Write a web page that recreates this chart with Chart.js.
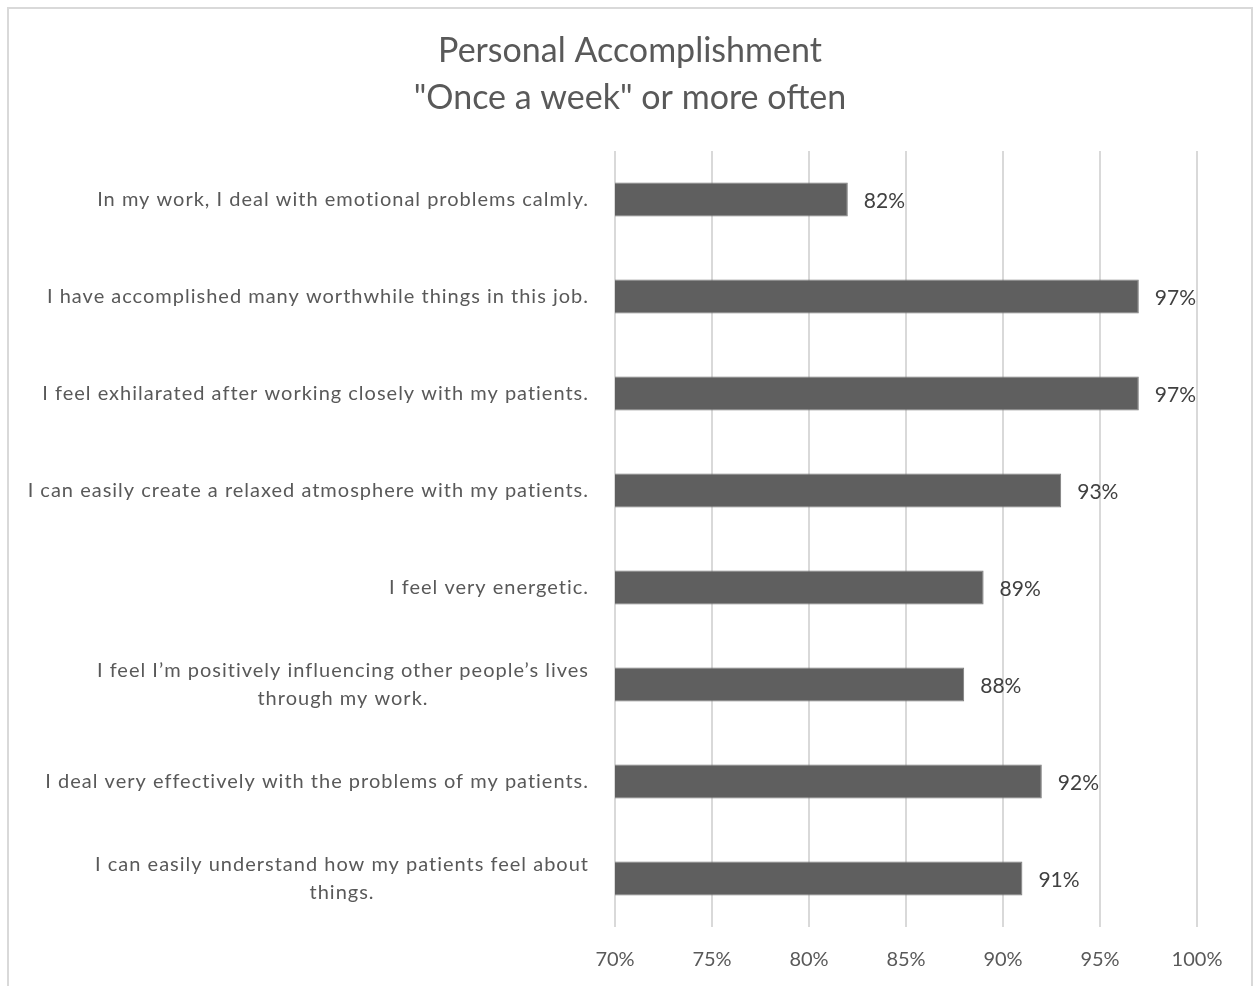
<!DOCTYPE html>
<html lang="en">
<head>
    <meta charset="UTF-8">
    <title>Personal Accomplishment</title>
    <script src="https://cdn.jsdelivr.net/npm/chart.js@4.4.0/dist/chart.umd.min.js"></script>
    <style>
        html, body { margin: 0; padding: 0; background: #fff; overflow: hidden; }
        #wrap { position: relative; width: 1259px; height: 986px; }
        #frame {
            position: absolute; left: 7px; top: 7px; width: 1246px; height: 990px;
            border: 2px solid #d9d9d9; box-sizing: border-box; pointer-events: none;
        }
        canvas { position: absolute; left: 0; top: 0; }
    </style>
</head>
<body>
<div id="wrap">
    <canvas id="myChart" width="1259" height="986"></canvas>
    <div id="frame"></div>
</div>

<script>
    // chart data
    const titleLines = ['Personal Accomplishment', '"Once a week" or more often'];
    const categories = [
        ['In my work, I deal with emotional problems calmly.'],
        ['I have accomplished many worthwhile things in this job.'],
        ['I feel exhilarated after working closely with my patients.'],
        ['I can easily create a relaxed atmosphere with my patients.'],
        ['I feel very energetic.'],
        ['I feel I\u2019m positively influencing other people\u2019s lives', 'through my work.'],
        ['I deal very effectively with the problems of my patients.'],
        ['I can easily understand how my patients feel about', 'things.']
    ];
    const values = [82, 97, 97, 93, 89, 88, 92, 91];
    const xMin = 70;
    const xMax = 100;
    const xStep = 5;

    const FONT = 'Lato, "Open Sans", sans-serif';
    const TEXT_COLOR = '#595959';

    // title, category labels and value labels drawn by hand
    const textPlugin = {
        id: 'textPlugin',
        afterDraw(chart) {
            const ctx = chart.ctx;
            const yScale = chart.scales.y;
            const meta = chart.getDatasetMeta(0);
            ctx.save();

            // title
            ctx.fillStyle = TEXT_COLOR;
            ctx.font = '34px ' + FONT;
            ctx.textAlign = 'center';
            ctx.textBaseline = 'middle';
            ctx.fillText(titleLines[0], 630, 51);
            ctx.fillText(titleLines[1], 630, 98);

            // category labels: block right aligned, lines centred inside it
            ctx.font = '20px ' + FONT;
            ctx.letterSpacing = '1px';
            const rightEdge = 589;
            const lineH = 28;
            categories.forEach((lines, i) => {
                const yc = yScale.getPixelForValue(i);
                const widths = lines.map(l => ctx.measureText(l).width);
                const blockW = Math.max(...widths);
                const cx = rightEdge - blockW / 2;
                const y0 = yc - (lines.length - 1) * lineH / 2;
                lines.forEach((l, k) => {
                    ctx.textAlign = lines.length > 1 ? 'center' : 'right';
                    ctx.fillText(l, lines.length > 1 ? cx : rightEdge, y0 + k * lineH);
                });
            });
            ctx.letterSpacing = '0px';

            // value labels
            ctx.font = '21px ' + FONT;
            ctx.fillStyle = '#404040';
            ctx.textAlign = 'left';
            meta.data.forEach((bar, i) => {
                ctx.fillText(values[i] + '%', bar.x + 16, bar.y + 2);
            });
            ctx.restore();
        }
    };

    const myChart = new Chart('myChart', {
        type: 'bar',
        data: {
            labels: categories.map(c => c.join(' ')),
            datasets: [{
                data: values,
                backgroundColor: '#5f5f5f',
                borderColor: '#7a7a7a',
                borderWidth: 1,
                barPercentage: 0.7,
                categoryPercentage: 0.5
            }]
        },
        options: {
            indexAxis: 'y',
            responsive: false,
            animation: false,
            layout: { padding: { top: 151, right: 62, left: 0, bottom: 0 } },
            plugins: {
                legend: { display: false },
                tooltip: { enabled: false },
                title: { display: false }
            },
            scales: {
                x: {
                    min: xMin,
                    max: xMax,
                    ticks: {
                        stepSize: xStep,
                        padding: 21,
                        color: TEXT_COLOR,
                        font: { family: FONT, size: 20 },
                        callback: v => v + '%'
                    },
                    grid: { color: '#d9d9d9', lineWidth: 2, drawTicks: false },
                    border: { display: false },
                    afterFit(scale) { scale.height = 59; }
                },
                y: {
                    ticks: { display: false },
                    grid: { display: false },
                    border: { display: false },
                    afterFit(scale) { scale.width = 615; }
                }
            }
        },
        plugins: [textPlugin]
    });
</script>
</body>
</html>
